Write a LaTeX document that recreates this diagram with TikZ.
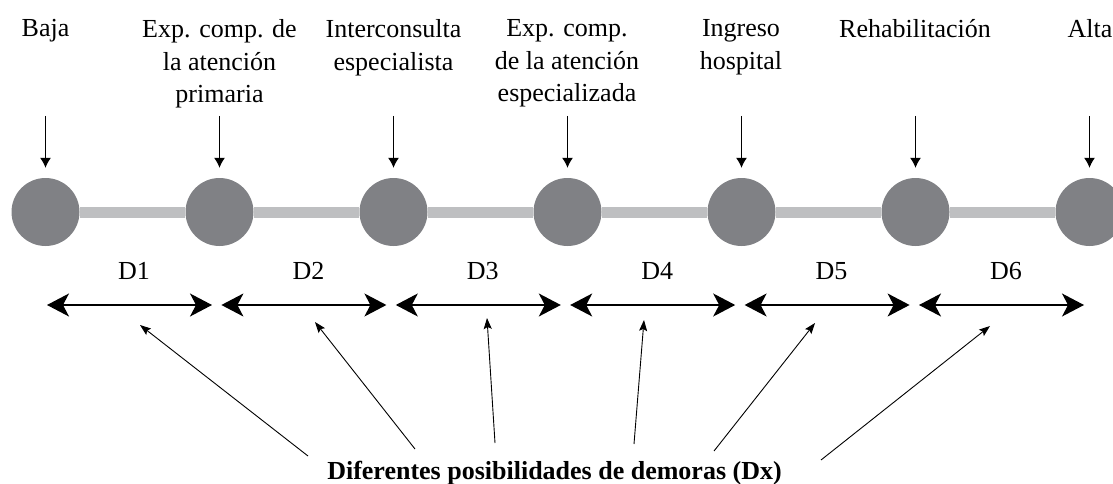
\documentclass[tikz,border=0pt]{standalone}
\usepackage{fontspec}
\setmainfont{Liberation Serif}
\usetikzlibrary{arrows.meta}
\definecolor{dotgray}{RGB}{128,129,133}
\definecolor{bargray}{RGB}{190,191,193}
\begin{document}
\begin{tikzpicture}[x=1pt,y=-1pt,
  dot/.style={circle, fill=dotgray, minimum size=68pt, inner sep=0pt},
  bar/.style={draw=bargray, line width=11pt},
  lbl/.style={font=\fontsize{26}{32.5}\selectfont, align=center, inner sep=0pt, anchor=north},
  dlbl/.style={font=\fontsize{26}{32}\selectfont, inner sep=0pt, anchor=base},
  downarr/.style={-{Latex[length=10pt,width=11pt]}, line width=1pt, shorten >=10pt},
  spanarr/.style={{Stealth[length=22pt,width=23pt,inset=6pt]}-{Stealth[length=22pt,width=23pt,inset=6pt]}, line width=1.3pt},
  pointer/.style={-{Stealth[length=11pt,width=8pt,inset=2pt]}, line width=0.9pt}]
\useasboundingbox (0,0) rectangle (1113,484);
% circles
\foreach \i in {1,...,7}{
  \pgfmathsetmacro{\cx}{45.5+174*(\i-1)}
  \node[dot] (c\i) at (\cx,212) {};
}
% bars
\foreach \i/\j in {1/2,2/3,3/4,4/5,5/6,6/7}{
  \draw[bar] (c\i.east) -- (c\j.west);
}
% top labels
\node[lbl] (t1) at (45.5,19.5) {Baja};
\node[lbl] (t2) at (219.5,19.5) {Exp. comp. de\\la atención\\primaria};
\node[lbl] (t3) at (393.5,19.5) {Interconsulta\\especialista};
\node[lbl] (t4) at (567,19.5) {Exp. comp.\\de la atención\\especializada};
\node[lbl] (t5) at (741,19.5) {Ingreso\\hospital};
\node[lbl] (t6) at (915,19.5) {Rehabilitación};
\node[lbl] (t7) at (1090,19.5) {Alta};
% down arrows
\foreach \i in {1,...,7}{
  \pgfmathsetmacro{\cx}{45.5+174*(\i-1)}
  \coordinate (s\i) at (\cx,116);
  \draw[downarr] (s\i) -- (c\i);
}
% D labels and span arrows
\foreach \i in {1,...,6}{
  \pgfmathsetmacro{\dx}{134+174.4*(\i-1)}
  \pgfmathsetmacro{\ax}{47+174.4*(\i-1)}
  \pgfmathsetmacro{\bx}{212+174.4*(\i-1)}
  \node[dlbl] (d\i) at (\dx,279) {D\i};
  \coordinate (l\i) at (\ax,305);
  \coordinate (r\i) at (\bx,305);
  \draw[spanarr] (l\i) -- (r\i);
}
% bottom text
\node[dlbl, font=\fontsize{26}{32}\selectfont\bfseries] (note) at (554.5,479) {Diferentes posibilidades de demoras (Dx)};
% pointers
\coordinate (p1) at (308,456); \coordinate (q1) at (140,325);
\coordinate (p2) at (415,449); \coordinate (q2) at (315,322);
\coordinate (p3) at (495,443); \coordinate (q3) at (487,318);
\coordinate (p4) at (634,444); \coordinate (q4) at (644,320);
\coordinate (p5) at (714,451); \coordinate (q5) at (815,323);
\coordinate (p6) at (821,460); \coordinate (q6) at (990,326);
\foreach \i in {1,...,6}{
  \draw[pointer] (p\i) -- (q\i);
}
\end{tikzpicture}
\end{document}
